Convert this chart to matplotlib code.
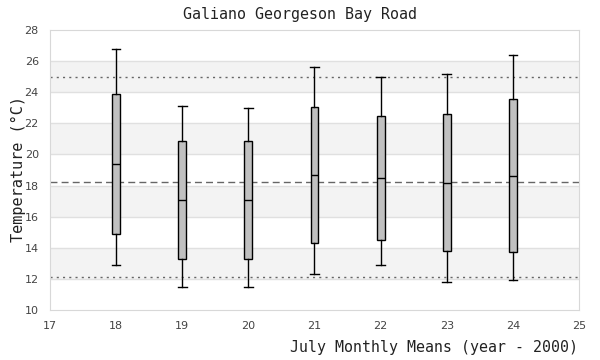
import matplotlib
matplotlib.use('Agg')
import matplotlib.pyplot as plt

years = [18, 19, 20, 21, 22, 23, 24]
whisker_lo = [12.88, 11.46, 11.46, 12.30, 12.88, 11.79, 11.93]
q1 = [14.87, 13.26, 13.26, 14.29, 14.48, 13.80, 13.73]
median = [19.37, 17.05, 17.05, 18.66, 18.49, 18.15, 18.60]
q3 = [23.87, 20.85, 20.85, 23.03, 22.45, 22.58, 23.55]
whisker_hi = [26.76, 23.14, 22.97, 25.60, 24.96, 25.15, 26.37]

mean_line = 18.21
upper_line = 24.98
lower_line = 12.11

stats = []
for i in range(len(years)):
    stats.append({'whislo': whisker_lo[i], 'q1': q1[i], 'med': median[i],
                  'q3': q3[i], 'whishi': whisker_hi[i], 'fliers': []})

fig = plt.figure(figsize=(6, 3.6), dpi=100)
ax = fig.add_axes([0.0833, 0.1389, 0.8817, 0.7778])

# alternating bands
for lo in [12, 16, 20, 24]:
    ax.axhspan(lo, lo + 2, color='#f3f3f3', zorder=0, lw=0)
for y in range(12, 28, 2):
    ax.axhline(y, color='#e0e0e0', lw=1, zorder=1)

ax.axhline(upper_line, color='#666666', lw=1, ls=(0, (1.5, 3)), zorder=2)
ax.axhline(lower_line, color='#666666', lw=1, ls=(0, (1.5, 3)), zorder=2)
ax.axhline(mean_line, color='#666666', lw=1, ls=(0, (5, 3)), zorder=2)

ax.bxp(stats, positions=years, widths=0.12, patch_artist=True, showfliers=False,
       boxprops=dict(facecolor='#c0c0c0', edgecolor='black', lw=1),
       medianprops=dict(color='black', lw=1),
       whiskerprops=dict(color='black', lw=1),
       capprops=dict(color='black', lw=1),
       capwidths=0.13, zorder=3)

ax.set_xlim(17, 25)
ax.set_ylim(10, 28)
ax.set_xticks(range(17, 26))
ax.set_xticklabels([str(v) for v in range(17, 26)])
ax.set_yticks(range(10, 29, 2))
for s in ax.spines.values():
    s.set_color('#d8d8d8')
ax.tick_params(length=0, labelsize=8, colors='#444444', pad=8)

mono = 'DejaVu Sans Mono'
fig.text(0.5, 0.96, 'Galiano Georgeson Bay Road', ha='center', va='center',
         family=mono, fontsize=10.8, color='#222222')
fig.text(0.963, 0.035, 'July Monthly Means (year - 2000)', ha='right', va='center',
         family=mono, fontsize=10.7, color='#222222')
fig.text(0.03, 0.53, 'Temperature (°C)', ha='center', va='center', rotation=90,
         family=mono, fontsize=11, color='#222222')

fig.savefig('out.png', dpi=100)
